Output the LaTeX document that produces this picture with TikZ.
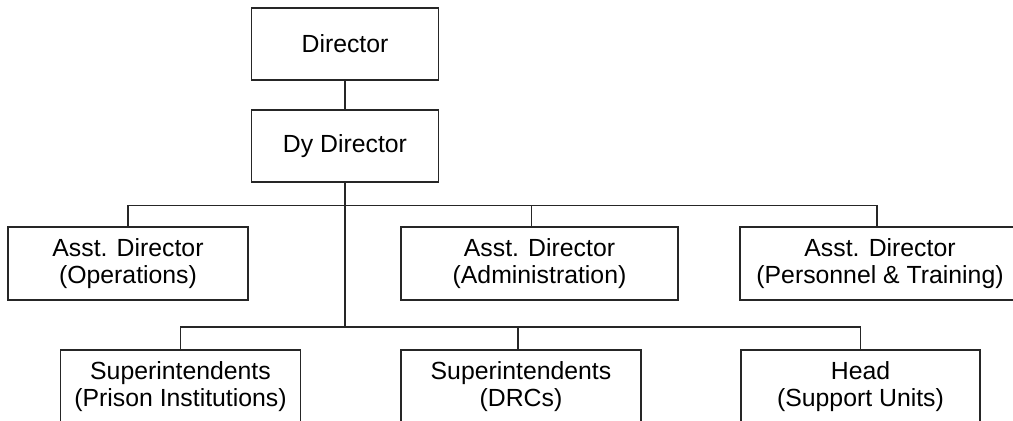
\documentclass[tikz,border=0pt]{standalone}
\usepackage{fontspec}
\setmainfont{Liberation Sans}
\begin{document}
\begin{tikzpicture}[x=0.5pt,y=-0.5pt,line width=0.6pt,
  post/.style={draw=black!85,align=center,inner sep=0pt,
    minimum height=36.5pt,font=\fontsize{12.4}{13.5}\selectfont},
  link/.style={draw=black!85}]
\path[clip] (0,0) rectangle (1013,420);
% top of the chart
\node[post,minimum width=93.5pt,minimum height=36pt] (dir) at (345,44) {Director};
\node[post,minimum width=93.5pt,minimum height=36pt] (dy) at (345,146) {Dy Director};
% assistant directors
\node[post,minimum width=120pt] (opr) at (128,263.5) {Asst. Director\\(Operations)};
\node[post,minimum width=138.5pt] (adm) at (539.5,263.5) {Asst. Director\\(Administration)};
\node[post,minimum width=140pt] (trg) at (880,263.5) {Asst. Director\\(Personnel \& Training)};
% lower level
\node[post,minimum width=120pt] (pri) at (180.5,386.5) {Superintendents\\(Prison Institutions)};
\node[post,minimum width=120pt] (drc) at (521,386.5) {Superintendents\\(DRCs)};
\node[post,minimum width=119.5pt] (sup) at (860.5,386.5) {Head\\(Support Units)};
\coordinate (bus1) at (345,205.7);
\coordinate (bus2) at (345,327);
\draw[link] (dir) -- (dy);
\draw[link] (dy) -- (bus2);
\draw[link] (opr.north) |- (bus1) -| ([xshift=-1.5pt]trg.north);
\draw[link] ([xshift=-4pt]adm.north) |- (bus1);
\draw[link] (pri.north) |- (bus2) -| (sup.north);
\draw[link] ([xshift=-1.5pt]drc.north) |- (bus2);
\end{tikzpicture}
\end{document}
